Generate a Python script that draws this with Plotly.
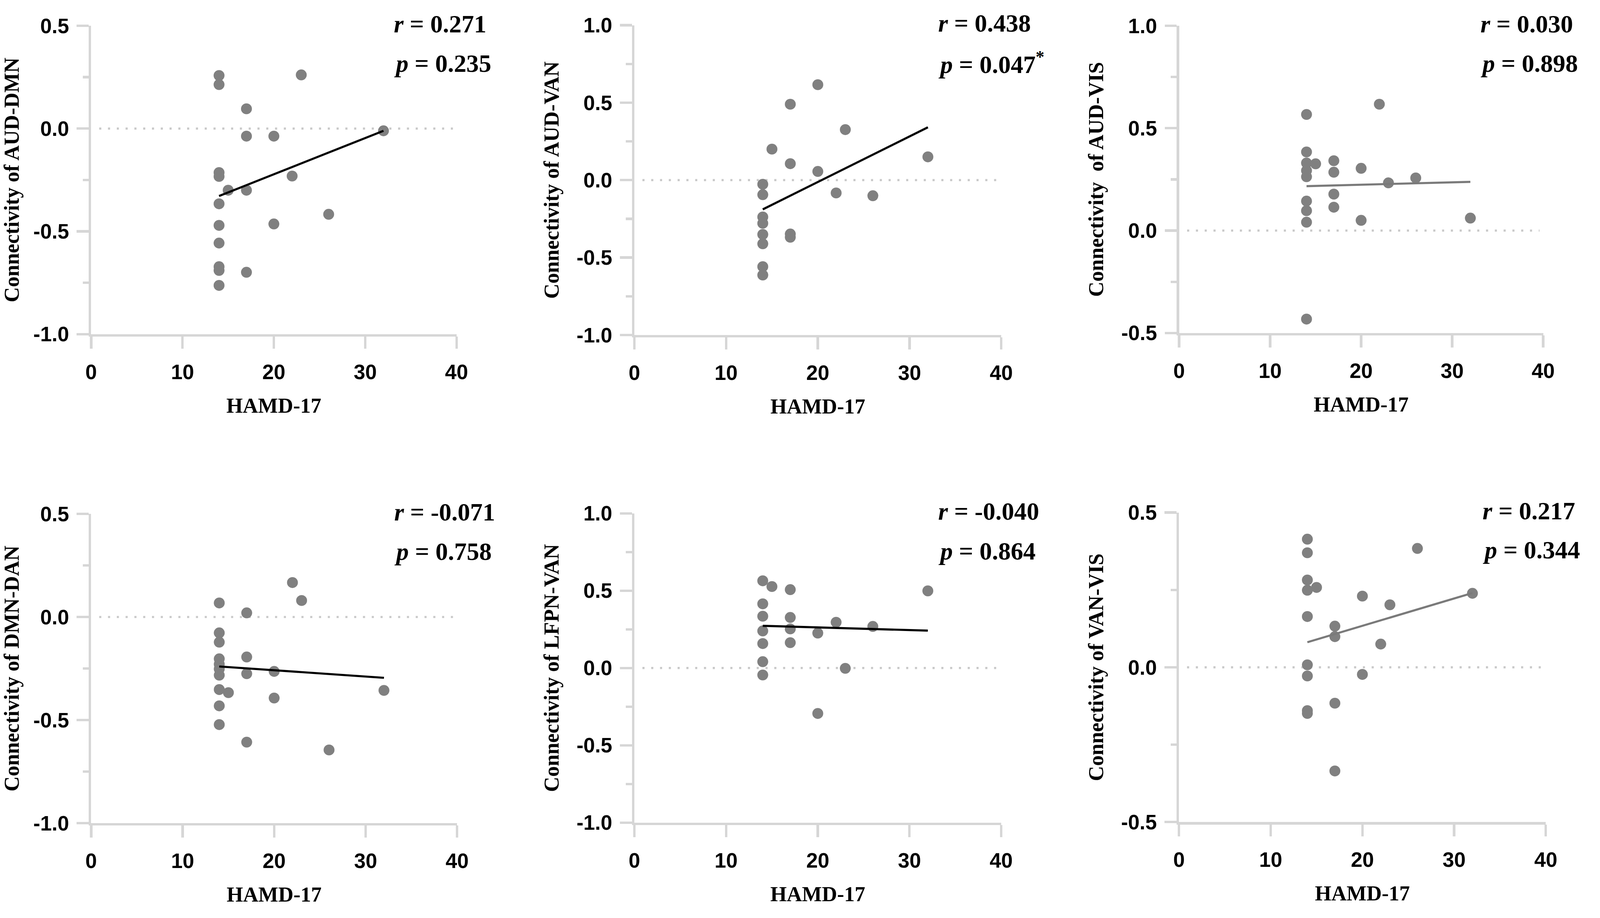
import plotly.graph_objects as go

# ---------------- data ----------------
hamd_aud_dmn = [14, 14, 23, 17, 17, 20, 32, 14, 14, 15, 17, 22, 14, 26, 14, 20, 14, 14, 14, 17, 14]
conn_aud_dmn = [0.258, 0.214, 0.261, 0.096, -0.037, -0.037, -0.011, -0.214, -0.233, -0.300, -0.300,
                -0.231, -0.366, -0.417, -0.471, -0.464, -0.557, -0.672, -0.690, -0.699, -0.763]

hamd_aud_van = [20, 17, 23, 15, 17, 20, 32, 14, 14, 22, 26, 14, 14, 14, 17, 17, 14, 14, 14]
conn_aud_van = [0.616, 0.490, 0.326, 0.200, 0.106, 0.056, 0.150, -0.027, -0.094, -0.083, -0.101,
                -0.238, -0.279, -0.351, -0.348, -0.369, -0.411, -0.559, -0.613]

hamd_aud_vis = [14, 22, 14, 14, 15, 14, 14, 17, 17, 20, 23, 26, 14, 14, 14, 17, 17, 20, 32, 14]
conn_aud_vis = [0.567, 0.617, 0.384, 0.330, 0.326, 0.293, 0.263, 0.341, 0.285, 0.304, 0.233, 0.257,
                0.144, 0.097, 0.041, 0.178, 0.114, 0.050, 0.061, -0.432]

hamd_dmn_dan = [22, 23, 14, 17, 14, 14, 14, 14, 14, 14, 17, 17, 20, 14, 15, 32, 20, 14, 14, 17, 26]
conn_dmn_dan = [0.167, 0.080, 0.068, 0.020, -0.077, -0.122, -0.203, -0.229, -0.252, -0.282, -0.194,
                -0.275, -0.264, -0.352, -0.367, -0.356, -0.393, -0.431, -0.522, -0.607, -0.645]

hamd_lfpn_van = [14, 15, 17, 32, 14, 14, 17, 22, 26, 17, 14, 20, 14, 17, 14, 23, 14, 20]
conn_lfpn_van = [0.564, 0.527, 0.507, 0.499, 0.415, 0.335, 0.327, 0.296, 0.269, 0.253, 0.240, 0.226,
                 0.158, 0.164, 0.041, -0.002, -0.045, -0.294]

hamd_van_vis = [14, 14, 26, 14, 14, 15, 20, 23, 32, 14, 17, 17, 22, 14, 14, 20, 17, 14, 14, 17]
conn_van_vis = [0.414, 0.370, 0.384, 0.282, 0.249, 0.258, 0.230, 0.202, 0.239, 0.164, 0.133, 0.099,
                0.075, 0.008, -0.028, -0.023, -0.116, -0.140, -0.149, -0.335]

# regression lines as drawn in the reference (HAMD-17 range and fitted values at its ends)
fit_x = [14, 32]
fit_aud_dmn = [-0.328, -0.011]
fit_aud_van = [-0.189, 0.341]
fit_aud_vis = [0.217, 0.238]
fit_dmn_dan = [-0.240, -0.295]
fit_lfpn_van = [0.273, 0.242]
fit_van_vis = [0.081, 0.240]

y_titles = ["Connectivity of AUD-DMN", "Connectivity of AUD-VAN", "Connectivity\u00a0 of AUD-VIS",
            "Connectivity of DMN-DAN", "Connectivity of LFPN-VAN", "Connectivity of VAN-VIS"]
x_title = "HAMD-17"
r_labels = ["0.271", "0.438", "0.030", "-0.071", "-0.040", "0.217"]
p_labels = ["0.235", "0.047", "0.898", "0.758", "0.864", "0.344"]
p_marks = ["", "*", "", "", "", ""]

x_ticks = [0, 10, 20, 30, 40]
x_ticktext = ["0", "10", "20", "30", "40"]
y_ticks_a = [-1.0, -0.5, 0.0, 0.5]
y_ticktext_a = ["-1.0", "-0.5", "0.0", "0.5"]
y_ticks_b = [-1.0, -0.5, 0.0, 0.5, 1.0]
y_ticktext_b = ["-1.0", "-0.5", "0.0", "0.5", "1.0"]
y_ticks_c = [-0.5, 0.0, 0.5, 1.0]
y_ticktext_c = ["-0.5", "0.0", "0.5", "1.0"]
y_ticks_d = [-0.5, 0.0, 0.5]
y_ticktext_d = ["-0.5", "0.0", "0.5"]

# ---------------- layout / style ----------------
W, H = 4550, 2351
panels = [
    dict(x=hamd_aud_dmn, y=conn_aud_dmn, fy=fit_aud_dmn, yr=[-1.0, 0.5], yt=y_ticks_a, ytt=y_ticktext_a,
         lc="#000000", px=(245.9, 1296.3), py=(38.1, 848.6)),
    dict(x=hamd_aud_van, y=conn_aud_van, fy=fit_aud_van, yr=[-1.0, 1.0], yt=y_ticks_b, ytt=y_ticktext_b,
         lc="#000000", px=(1807.4, 2862.2), py=(36.7, 850.8)),
    dict(x=hamd_aud_vis, y=conn_aud_vis, fy=fit_aud_vis, yr=[-0.5, 1.0], yt=y_ticks_c, ytt=y_ticktext_c,
         lc="#7a7a7a", px=(3373.4, 4420.0), py=(38.1, 845.6)),
    dict(x=hamd_dmn_dan, y=conn_dmn_dan, fy=fit_dmn_dan, yr=[-1.0, 0.5], yt=y_ticks_a, ytt=y_ticktext_a,
         lc="#000000", px=(245.9, 1298.0), py=(1321.0, 2133.7)),
    dict(x=hamd_lfpn_van, y=conn_lfpn_van, fy=fit_lfpn_van, yr=[-1.0, 1.0], yt=y_ticks_b, ytt=y_ticktext_b,
         lc="#000000", px=(1807.4, 2862.0), py=(1319.7, 2132.3)),
    dict(x=hamd_van_vis, y=conn_van_vis, fy=fit_van_vis, yr=[-0.5, 0.5], yt=y_ticks_d, ytt=y_ticktext_d,
         lc="#7a7a7a", px=(3373.0, 4427.6), py=(1317.4, 2130.8)),
]

AXIS_GREY = "#d6d6d6"
DOT_GREY = "#808080"
SERIF = "Liberation Serif, Times New Roman, serif"
SANS = "Liberation Sans, Arial, sans-serif"

fig = go.Figure()
layout = dict(width=W, height=H, margin=dict(l=0, r=0, t=0, b=0),
              paper_bgcolor="white", plot_bgcolor="white", showlegend=False)
shapes = []
annotations = []

for i, p in enumerate(panels):
    k = "" if i == 0 else str(i + 1)
    xa, ya = "x" + k, "y" + k
    xd = [p["px"][0] / W, p["px"][1] / W]
    yd = [1 - p["py"][1] / H, 1 - p["py"][0] / H]
    ph = p["py"][1] - p["py"][0]

    common = dict(showline=True, linecolor=AXIS_GREY, linewidth=7, ticks="outside",
                  tickcolor=AXIS_GREY, tickwidth=7, ticklen=34, showgrid=False, zeroline=False,
                  tickfont=dict(family=SANS, size=59, color="black", weight="bold"))
    layout["xaxis" + k] = dict(domain=xd, anchor=ya, range=[0, 40], tickmode="array",
                               tickvals=x_ticks, ticktext=x_ticktext, ticklabelstandoff=16,
                               title=dict(text="<b>" + x_title + "</b>", standoff=44,
                                          font=dict(family=SERIF, size=60, color="black")),
                               **common)
    layout["yaxis" + k] = dict(domain=yd, anchor=xa, range=p["yr"], tickmode="array",
                               tickvals=p["yt"], ticktext=p["ytt"], ticklabelstandoff=10,
                               minor=dict(ticks="outside", ticklen=17, tickwidth=7, tickcolor=AXIS_GREY,
                                          dtick=0.25, showgrid=False),
                               title=dict(text="<b>" + y_titles[i] + "</b>", standoff=34,
                                          font=dict(family=SERIF, size=60, color="black")),
                               **common)

    # dotted zero reference line
    shapes.append(dict(type="line", xref=xa + " domain", yref=ya, x0=0.022, x1=0.99, y0=0, y1=0,
                       line=dict(color="#c9c9c9", width=6, dash="6px,19px"), layer="below"))

    fig.add_trace(go.Scatter(x=p["x"], y=p["y"], mode="markers", xaxis=xa, yaxis=ya,
                             marker=dict(size=31, color=DOT_GREY, line=dict(width=0)),
                             cliponaxis=False))
    fig.add_trace(go.Scatter(x=fit_x, y=p["fy"], mode="lines", xaxis=xa, yaxis=ya,
                             line=dict(color=p["lc"], width=6), cliponaxis=False))

    annotations.append(dict(xref=xa + " domain", yref=ya + " domain", x=0.826, y=1 + 5 / ph,
                            xanchor="left", yanchor="middle", showarrow=False,
                            text="<b><i>r</i> = " + r_labels[i] + "</b>",
                            font=dict(family=SERIF, size=71, color="black")))
    p_text = "<b><i>p</i> = " + p_labels[i] + "</b>"
    if p_marks[i]:
        p_text += "<b><sup>" + p_marks[i] + "</sup></b>"
    annotations.append(dict(xref=xa + " domain", yref=ya + " domain", x=0.826, y=1 - 99 / ph,
                            xanchor="left", yanchor="middle", showarrow=False,
                            text=p_text, font=dict(family=SERIF, size=71, color="black")))

layout["shapes"] = shapes
layout["annotations"] = annotations
fig.update_layout(**layout)

# fit the fixed-width figure into the CSS viewport: CSS zoom to the viewport width,
# then let the figure height fill the viewport height
post = """
var gd = document.getElementById('{plot_id}');
document.documentElement.style.margin = '0';
document.documentElement.style.overflow = 'hidden';
document.body.style.margin = '0';
document.body.style.overflow = 'hidden';
var vw = document.documentElement.clientWidth || window.innerWidth;
var vh = document.documentElement.clientHeight || window.innerHeight;
var s = vw / %d;
gd.style.zoom = s;
var nh = Math.floor(vh / s);
if (nh > 0 && Math.abs(nh - %d) > 2) {
    gd.style.height = nh + 'px';
    Plotly.relayout(gd, {height: nh});
}
""" % (W, H)
fig.write_html("out.html", post_script=post, config={"displayModeBar": False})
